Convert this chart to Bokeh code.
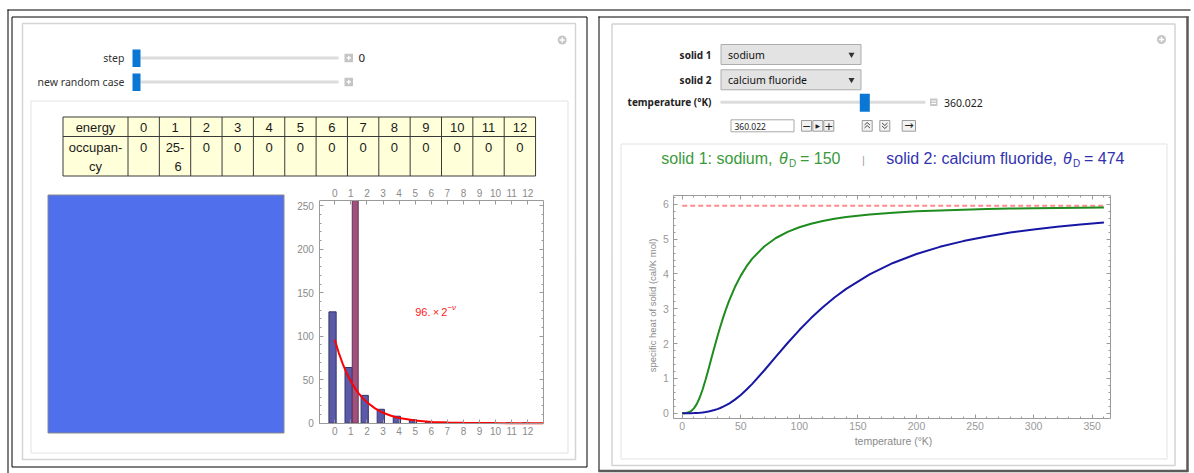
import math
from bokeh.plotting import figure
from bokeh.models import Range1d, LinearAxis, SingleIntervalTicker, FixedTicker, ColumnDataSource
from bokeh.core.properties import value
from bokeh.transform import dodge
from bokeh.embed import file_html
from bokeh.resources import INLINE

# ---------------- data: left panel (energy-level occupancy, step 0) ----------------
energy_levels = [0, 1, 2, 3, 4, 5, 6, 7, 8, 9, 10, 11, 12]
occupancy = [0, 256, 0, 0, 0, 0, 0, 0, 0, 0, 0, 0, 0]
boltzmann_counts = [128, 64, 32, 16, 8, 4, 2, 1, 0.5, 0.25, 0.12, 0.06, 0.03]
fit_nu = [0, 0.25, 0.5, 0.75, 1, 1.25, 1.5, 1.75, 2, 2.5, 3, 3.5, 4, 5, 6, 7, 8, 10, 12.95]
fit_counts = [96, 80.7, 67.9, 57.1, 48, 40.4, 33.9, 28.5, 24, 17, 12, 8.5, 6, 3, 1.5, 0.75, 0.38, 0.09, 0.01]
fit_label_base = "96.\u2009\u00d7\u20092"
fit_label_exp = "\u2212\u03bd"
step_value = "0"

# ---------------- data: right panel (Debye specific heat) ----------------
solid1_name, solid1_theta = "sodium", 150
solid2_name, solid2_theta = "calcium fluoride", 474
temperature_setting = "360.022"
temperature_K = [0, 2.5, 5, 7.5, 10, 12.5, 15, 17.5, 20, 22.5, 25, 27.5, 30, 32.5, 35, 37.5,
                 40, 45, 50, 55, 60, 70, 80, 90, 100, 110, 120, 130, 140, 160, 180, 200,
                 220, 240, 260, 280, 300, 320, 340, 360]
cv_sodium = [0, 0.002, 0.017, 0.058, 0.138, 0.267, 0.452, 0.689, 0.967, 1.270, 1.583, 1.895,
             2.197, 2.484, 2.751, 2.999, 3.226, 3.623, 3.951, 4.222, 4.446, 4.789, 5.032,
             5.209, 5.341, 5.442, 5.520, 5.582, 5.632, 5.707, 5.759, 5.797, 5.825, 5.846,
             5.863, 5.876, 5.887, 5.896, 5.903, 5.910]
cv_calcium_fluoride = [0, 0.000, 0.001, 0.002, 0.004, 0.009, 0.015, 0.023, 0.035, 0.050, 0.068,
                       0.091, 0.118, 0.150, 0.187, 0.229, 0.277, 0.390, 0.525, 0.679, 0.850,
                       1.226, 1.623, 2.016, 2.388, 2.732, 3.043, 3.323, 3.572, 3.988, 4.315,
                       4.573, 4.778, 4.943, 5.077, 5.187, 5.279, 5.355, 5.420, 5.475]
dulong_petit = 5.96

# ---------------- canvas ----------------
W, H = 1194, 473
SANS = "Liberation Sans"
UI = "Noto Sans"

p = figure(width=W, height=H, x_range=Range1d(0, W), y_range=Range1d(H, 0),
           x_axis_type=None, y_axis_type=None, toolbar_location=None,
           output_backend="svg", min_border=0, outline_line_color=None, title=None)
p.background_fill_color = "white"
p.border_fill_color = "white"


def px_range(d0, p0, d1, p1, total, from_top=False):
    if from_top:
        p0, p1 = total - p0, total - p1
    k = (d1 - d0) / (p1 - p0)
    start = d0 - p0 * k
    return Range1d(start=start, end=start + total * k)


p.extra_x_ranges = {"bar_x": px_range(0, 334.3, 12, 527.3, W),
                    "heat_x": px_range(0, 681.7, 350, 1091.7, W)}
p.extra_y_ranges = {"bar_y": px_range(0, 422.7, 256, 200.0, H, True),
                    "heat_y": px_range(0, 412.7, 6, 203.8, H, True)}


def label(x, y, text, size="11px", color="#333333", align="left", font=UI, style="normal",
          baseline="middle", angle=0.0, **kw):
    p.text(x=[x], y=[y], text=[text], text_font=value(font), text_font_size=value(size),
           text_color=color, text_align=align, text_baseline=baseline,
           text_font_style=style, angle=angle, **kw)


def box(l, r, t, b, fill=None, line="#000000", width=1.0, **kw):
    p.quad(left=[l], right=[r], top=[t], bottom=[b], fill_color=fill, line_color=line,
           line_width=width, **kw)


def seg(x0, y0, x1, y1, color="#000000", width=1.0):
    p.segment(x0=[x0], y0=[y0], x1=[x1], y1=[y1], line_color=color, line_width=width)


def plus_icon(cx, cy, r=4.5):
    p.circle(x=[cx], y=[cy], radius=r, fill_color="#c6c6c6", line_color=None)
    seg(cx - 2.6, cy, cx + 2.6, cy, "white", 1.4)
    seg(cx, cy - 2.6, cx, cy + 2.6, "white", 1.4)


def plus_box(l, t, s=8.5):
    box(l, l + s, t, t + s, fill="#c4c4c4", line=None)
    seg(l + 2, t + s / 2, l + s - 2, t + s / 2, "white", 1.3)
    seg(l + s / 2, t + 2, l + s / 2, t + s - 2, "white", 1.3)


# ---------------- frames ----------------
seg(7, 9.5, 1190, 9.5, "#000000", 1)
seg(7.5, 9, 7.5, 473, "#000000", 1)
box(11.5, 586.5, 16.5, 466.5, line="#000000")
box(22, 575, 23, 459, line="#d4d4d4", width=1.5)
box(30.5, 567.5, 100.5, 452.5, line="#e2e2e2")

seg(598.5, 16, 598.5, 471, "#000000", 1)
seg(598, 16.5, 1188, 16.5, "#000000", 1)
seg(1187, 16, 1187, 471, "#5a5a5a", 2.5)
seg(598, 470.5, 1188, 470.5, "#5a5a5a", 2.5)
box(611.5, 1174.5, 23.5, 465, line="#d4d4d4", width=1.5)
box(620.5, 1166.5, 143.5, 458.5, line="#e2e2e2")

plus_icon(561.7, 39.5)
plus_icon(1161, 39)

# ---------------- left panel controls ----------------
for (txt, cy) in [("step", 57.5), ("new random case", 81.5)]:
    label(124, cy, txt, size="10.5px", color="#333333", align="right")
    seg(140, cy, 338, cy, "#dcdcdc", 3)
    box(132, 140, cy - 8.5, cy + 9, fill="#0a77d5", line=None)
    plus_box(344, cy - 4.3)
label(358, 57.5, step_value, size="11.5px", color="#222222")

# table of occupancies
tx0, head_w, col_w = 62.5, 65.0, 31.35
ty0, ty1, ty2 = 116.5, 136.0, 175.5
tx_end = tx0 + head_w + col_w * len(energy_levels)
box(tx0, tx_end, ty0, ty2, fill="#ffffd9", line="#3a3a3a")
seg(tx0, ty1, tx_end, ty1, "#3a3a3a", 1)
col_edges = [tx0 + head_w + col_w * i for i in range(len(energy_levels))]
p.segment(x0=col_edges, y0=[ty0] * len(col_edges), x1=col_edges, y1=[ty2] * len(col_edges),
          line_color="#3a3a3a", line_width=1)
head_cx = tx0 + head_w / 2
label(head_cx, 126.5, "energy", size="13px", color="#1a1a1a", align="center", font=SANS)
label(head_cx, 146.5, "occupan-", size="13px", color="#1a1a1a", align="center", font=SANS)
label(head_cx, 166, "cy", size="13px", color="#1a1a1a", align="center", font=SANS)
cell_cx = [e + col_w / 2 for e in col_edges]
p.text(x=cell_cx, y=[126.5] * len(cell_cx), text=[str(e) for e in energy_levels],
       text_font=value(SANS), text_font_size=value("13px"), text_color="#1a1a1a",
       text_align="center", text_baseline="middle")
occ_line1, occ_line2, occ_x2 = [], [], []
for cx, o in zip(cell_cx, occupancy):
    s = str(o)
    if len(s) > 2:
        occ_line1.append(s[:2] + "-")
        occ_line2.append(s[2:])
        occ_x2.append(cx + 3)
    else:
        occ_line1.append(s)
p.text(x=cell_cx, y=[146.5] * len(cell_cx), text=occ_line1, text_font=value(SANS),
       text_font_size=value("13px"), text_color="#1a1a1a", text_align="center",
       text_baseline="middle")
if occ_line2:
    p.text(x=occ_x2, y=[166] * len(occ_x2), text=occ_line2, text_font=value(SANS),
           text_font_size=value("13px"), text_color="#1a1a1a", text_align="center",
           text_baseline="middle")

# particle picture (all particles in one level -> uniform colour)
box(47.5, 283.5, 194.5, 432.5, fill="#4f6fec", line="#8a8a8a")

# ---------------- bar chart ----------------
bar_src = ColumnDataSource(dict(energy=energy_levels, counts=boltzmann_counts))
p.vbar(x=dodge("energy", -0.14), top="counts", bottom=0, width=0.45, source=bar_src,
       fill_color="#5a5aa8", line_color="#34346c", line_width=1,
       x_range_name="bar_x", y_range_name="bar_y")
occ_src = ColumnDataSource(dict(energy=[e for e, o in zip(energy_levels, occupancy) if o > 0],
                                occ=[o for o in occupancy if o > 0]))
p.vbar(x=dodge("energy", 0.27), top="occ", bottom=0, width=0.37, source=occ_src,
       fill_color="#a0527e", line_color="#6a3052", line_width=1,
       x_range_name="bar_x", y_range_name="bar_y")
p.line(fit_nu, fit_counts, line_color="#ff0000", line_width=2,
       x_range_name="bar_x", y_range_name="bar_y")
p.text(x=[7.0], y=[127.6], text=[fit_label_base], text_font=value(SANS),
       text_font_size=value("11px"), text_color="#ff1a1a", text_align="right",
       text_baseline="middle", x_range_name="bar_x", y_range_name="bar_y")
p.text(x=[7.0], y=[133.0], text=[fit_label_exp], text_font=value(SANS),
       text_font_size=value("8px"), text_color="#ff1a1a", text_align="left",
       text_font_style="italic", text_baseline="middle",
       x_range_name="bar_x", y_range_name="bar_y")


def frame_axes(xr, yr, xlo, xhi, ylo, yhi, xtick_fn, ytick_fn, line_color, label_color,
               label_size, top_labels, standoff_x=3, standoff_y=4):
    def common(show_labels, standoff):
        return dict(x_range_name=xr, y_range_name=yr, axis_line_color=line_color,
                    axis_line_width=1, major_tick_line_color=line_color,
                    minor_tick_line_color=line_color, major_tick_in=4, major_tick_out=0,
                    minor_tick_in=2, minor_tick_out=0, major_label_text_font=SANS,
                    major_label_text_font_size=label_size,
                    major_label_text_color=label_color if show_labels else None,
                    major_label_standoff=standoff)
    b = LinearAxis(fixed_location=ylo, bounds=(xlo, xhi), ticker=xtick_fn(), **common(True, standoff_x))
    p.add_layout(b, "below")
    t = LinearAxis(fixed_location=yhi, bounds=(xlo, xhi), ticker=xtick_fn(), **common(top_labels, standoff_x))
    p.add_layout(t, "above")
    l = LinearAxis(fixed_location=xlo, bounds=(ylo, yhi), ticker=ytick_fn(), **common(True, standoff_y))
    p.add_layout(l, "left")
    r = LinearAxis(fixed_location=xhi, bounds=(ylo, yhi), ticker=ytick_fn(), **common(False, standoff_y))
    p.add_layout(r, "right")


frame_axes("bar_x", "bar_y", -0.93, 12.98, 0, 256,
           lambda: FixedTicker(ticks=energy_levels, minor_ticks=[]),
           lambda: SingleIntervalTicker(interval=50, num_minor_ticks=5),
           "#9a9a9a", "#8a8a8a", "10px", True, standoff_x=4, standoff_y=6)

# ---------------- right panel controls ----------------
for (txt, name, top) in [("solid 1", solid1_name, 44.0), ("solid 2", solid2_name, 69.3)]:
    cy = top + 10
    label(711, cy, txt, size="10px", color="#222222", align="right", style="bold")
    box(720.5, 860.5, top, top + 20, fill="#e3e3e3", line="#adadad")
    label(727.5, cy, name, size="10.5px", color="#111111")
    p.scatter(x=[851], y=[cy], marker="inverted_triangle", size=6, fill_color="#333333",
              line_color=None)

label(711, 101.7, "temperature (\u00b0K)", size="10px", color="#222222", align="right", style="bold")
seg(720, 101.7, 925, 101.7, "#dcdcdc", 3)
box(859.3, 869.3, 93.3, 111.3, fill="#0a77d5", line=None)
box(929.5, 937, 98, 105.5, fill="#c8c8c8", line=None)
seg(931, 100.6, 935.5, 100.6, "white", 1)
seg(931, 103, 935.5, 103, "white", 1)
label(943.5, 102, temperature_setting, size="10.5px", color="#222222")

box(730.5, 793.5, 119.3, 131.3, fill="white", line="#a8a8a8")
label(734, 125.5, temperature_setting, size="8.5px", color="#222222")
for (l, r) in [(801, 811), (812.3, 822.3), (823.3, 833.3), (861.7, 871.7), (879.3, 889.3), (901.7, 915)]:
    box(l, r, 120, 130.7, fill="#f2f2f2", line="#9c9c9c")
label(806, 125.2, "\u2212", size="11px", color="#222222", align="center", font="DejaVu Sans")
label(817.3, 125.4, "\u25b6", size="6px", color="#222222", align="center", font="DejaVu Sans")
label(828.3, 125.2, "+", size="11px", color="#222222", align="center", font="DejaVu Sans")
p.multi_line(xs=[[864, 866.7, 869.4], [864, 866.7, 869.4], [881.6, 884.3, 887], [881.6, 884.3, 887]],
             ys=[[124.5, 122, 124.5], [127.5, 125, 127.5], [122.5, 125, 122.5], [125.5, 128, 125.5]],
             line_color="#333333", line_width=0.9)
label(908.3, 125.3, "\u2192", size="11px", color="#222222", align="center", font="DejaVu Sans")

# ---------------- heat-capacity title ----------------
GREEN_T, BLUE_T = "#3a9a3a", "#3232b0"
TS = "16px"
label(772, 158, "solid 1: %s," % solid1_name, size=TS, color=GREEN_T, font=SANS, align="right")
label(778.5, 158, "\u03b8", size=TS, color=GREEN_T, font=SANS, style="italic")
label(788.5, 162.5, "D", size="10px", color=GREEN_T, font=SANS)
label(799.5, 158, "= %d" % solid1_theta, size=TS, color=GREEN_T, font=SANS)
label(863, 159, "|", size="11px", color="#a0a0a0", font=SANS, align="center")
label(1056.5, 158, "solid 2: %s," % solid2_name, size=TS, color=BLUE_T, font=SANS, align="right")
label(1062.5, 158, "\u03b8", size=TS, color=BLUE_T, font=SANS, style="italic")
label(1072.5, 162.5, "D", size="10px", color=BLUE_T, font=SANS)
label(1083.5, 158, "= %d" % solid2_theta, size=TS, color=BLUE_T, font=SANS)

# ---------------- heat-capacity chart ----------------
p.line([0, float(temperature_setting)], [dulong_petit, dulong_petit], line_color="#ff8c8c",
       line_width=2, line_dash="5 3", x_range_name="heat_x", y_range_name="heat_y")
p.line(temperature_K, cv_sodium, line_color="#1e8c1e", line_width=2,
       x_range_name="heat_x", y_range_name="heat_y")
p.line(temperature_K, cv_calcium_fluoride, line_color="#1717a3", line_width=2,
       x_range_name="heat_x", y_range_name="heat_y")

frame_axes("heat_x", "heat_y", -7.2, 365.6, -0.16, 6.25,
           lambda: SingleIntervalTicker(interval=50, num_minor_ticks=5),
           lambda: SingleIntervalTicker(interval=1, num_minor_ticks=5),
           "#9a9a9a", "#9a9a9a", "10.5px", False, standoff_x=3, standoff_y=5)

label(893, 440, "temperature (\u00b0K)", size="10.5px", color="#8a8a8a", align="center", font=SANS)
label(651.6, 305, "specific heat of solid (cal/K mol)", size="9.5px", color="#8a8a8a",
      align="center", font=SANS, angle=math.pi / 2)

open("out.html", "w").write(file_html(p, INLINE))
